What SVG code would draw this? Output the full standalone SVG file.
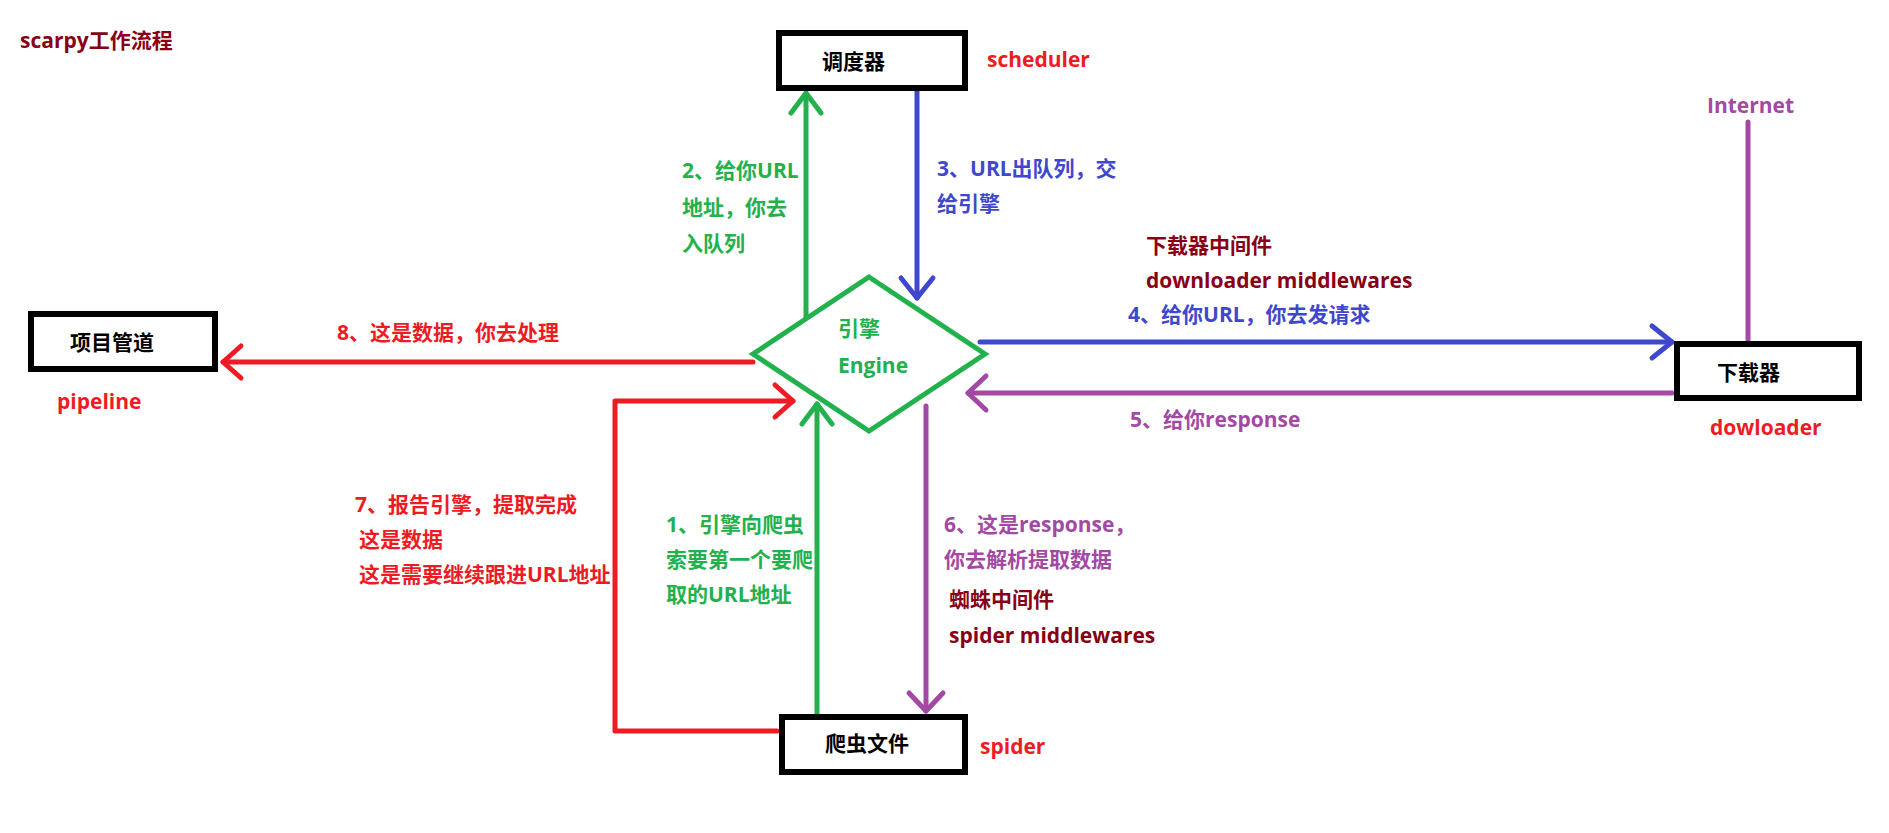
<svg xmlns="http://www.w3.org/2000/svg" width="1889" height="833" viewBox="0 0 1889 833">
<style>
  text { font-family: "Open Sans", "Noto Sans CJK SC", "Noto Sans", sans-serif; font-weight: bold; font-size: 21px; }
  .box { fill: #ffffff; stroke: #000000; stroke-width: 6; }
  .lbl { fill: #000000; }
  .dr { fill: #880015; }
  .rd { fill: #ED1C24; }
  .gn { fill: #22B14C; }
  .bl { fill: #3F48CC; }
  .pu { fill: #A349A4; }
  .ln { fill: none; stroke-width: 5; stroke-linecap: round; stroke-linejoin: round; }
  .g { stroke: #22B14C; }
  .b { stroke: #3F48CC; }
  .r { stroke: #ED1C24; }
  .p { stroke: #A349A4; }
</style>
<defs>
  <marker id="ag" markerUnits="userSpaceOnUse" viewBox="-24 -20 28 40" refX="0" refY="0" markerWidth="28" markerHeight="40" orient="auto" overflow="visible">
    <path d="M -20 -15 L 0 0 L -20 15" fill="none" stroke="#22B14C" stroke-width="5" stroke-linecap="round" stroke-linejoin="round"/>
  </marker>
  <marker id="ab" markerUnits="userSpaceOnUse" viewBox="-24 -20 28 40" refX="0" refY="0" markerWidth="28" markerHeight="40" orient="auto" overflow="visible">
    <path d="M -20 -16 L 0 0 L -20 16" fill="none" stroke="#3F48CC" stroke-width="5" stroke-linecap="round" stroke-linejoin="round"/>
  </marker>
  <marker id="ar" markerUnits="userSpaceOnUse" viewBox="-24 -20 28 40" refX="0" refY="0" markerWidth="28" markerHeight="40" orient="auto" overflow="visible">
    <path d="M -18 -16 L 0 0 L -18 16" fill="none" stroke="#ED1C24" stroke-width="5" stroke-linecap="round" stroke-linejoin="round"/>
  </marker>
  <marker id="ap" markerUnits="userSpaceOnUse" viewBox="-24 -20 28 40" refX="0" refY="0" markerWidth="28" markerHeight="40" orient="auto" overflow="visible">
    <path d="M -18 -17 L 0 0 L -18 17" fill="none" stroke="#A349A4" stroke-width="5" stroke-linecap="round" stroke-linejoin="round"/>
  </marker>
</defs>
<rect width="1889" height="833" fill="#ffffff"/>

<text class="dr" x="20" y="48">scarpy工作流程</text>

<g id="connectors">
  <!-- 2: engine -> scheduler -->
  <line class="ln g" x1="806" y1="322" x2="806" y2="93" marker-end="url(#ag)"/>
  <!-- 3: scheduler -> engine -->
  <line class="ln b" x1="917" y1="91" x2="917" y2="298" marker-end="url(#ab)"/>
  <!-- 4: engine -> downloader -->
  <line class="ln b" x1="980" y1="342" x2="1672" y2="342" marker-end="url(#ab)"/>
  <!-- 5: downloader -> engine -->
  <line class="ln p" x1="1672" y1="393" x2="968" y2="393" marker-end="url(#ap)"/>
  <!-- Internet -->
  <line class="ln p" x1="1748" y1="122" x2="1748" y2="340"/>
  <!-- 8: engine -> pipeline -->
  <line class="ln r" x1="753" y1="362" x2="223" y2="362" marker-end="url(#ar)"/>
  <!-- 7: spider -> engine -->
  <polyline class="ln r" points="777,731 615,731 615,401 793,401" marker-end="url(#ar)"/>
  <!-- 1: spider -> engine -->
  <line class="ln g" x1="817" y1="714" x2="817" y2="404" marker-end="url(#ag)"/>
  <!-- 6: engine -> spider -->
  <line class="ln p" x1="926" y1="406" x2="926" y2="711" marker-end="url(#ap)"/>
</g>

<g id="scheduler">
  <rect class="box" x="779" y="33" width="186" height="55"/>
  <text class="lbl" x="822" y="69">调度器</text>
  <text class="rd" x="987" y="67">scheduler</text>
</g>

<g id="engine">
  <polygon points="869,277 985,354 869,431 753,354" fill="#ffffff" stroke="#22B14C" stroke-width="5" stroke-linejoin="miter"/>
  <text class="gn" x="838" y="336">引擎</text>
  <text class="gn" x="838" y="373">Engine</text>
</g>

<g id="pipeline">
  <rect class="box" x="31" y="314" width="184" height="55"/>
  <text class="lbl" x="70" y="350">项目管道</text>
  <text class="rd" x="57" y="409">pipeline</text>
</g>

<g id="downloader">
  <rect class="box" x="1677" y="344" width="182" height="54"/>
  <text class="lbl" x="1717" y="380">下载器</text>
  <text class="rd" x="1710" y="435">dowloader</text>
</g>

<g id="internet">
  <text class="pu" x="1707" y="113">Internet</text>
</g>

<g id="spider">
  <rect class="box" x="782" y="717" width="183" height="55"/>
  <text class="lbl" x="825" y="751">爬虫文件</text>
  <text class="rd" x="980" y="754">spider</text>
</g>

<g id="labels">
  <text class="gn" x="682" y="178">2、给你URL</text>
  <text class="gn" x="682" y="215">地址，你去</text>
  <text class="gn" x="682" y="251">入队列</text>

  <text class="bl" x="937" y="176">3、URL出队列，交</text>
  <text class="bl" x="937" y="211">给引擎</text>

  <text class="rd" x="337" y="340">8、这是数据，你去处理</text>

  <text class="dr" x="1146" y="253">下载器中间件</text>
  <text class="dr" x="1146" y="288">downloader middlewares</text>
  <text class="bl" x="1128" y="322">4、给你URL，你去发请求</text>
  <text class="pu" x="1130" y="427">5、给你response</text>

  <text class="rd" x="355" y="512">7、报告引擎，提取完成</text>
  <text class="rd" x="359" y="547">这是数据</text>
  <text class="rd" x="359" y="582">这是需要继续跟进URL地址</text>

  <text class="gn" x="666" y="532">1、引擎向爬虫</text>
  <text class="gn" x="666" y="567">索要第一个要爬</text>
  <text class="gn" x="666" y="602">取的URL地址</text>

  <text class="pu" x="944" y="532">6、这是response，</text>
  <text class="pu" x="944" y="567">你去解析提取数据</text>
  <text class="dr" x="949" y="607">蜘蛛中间件</text>
  <text class="dr" x="949" y="643">spider middlewares</text>
</g>
</svg>
